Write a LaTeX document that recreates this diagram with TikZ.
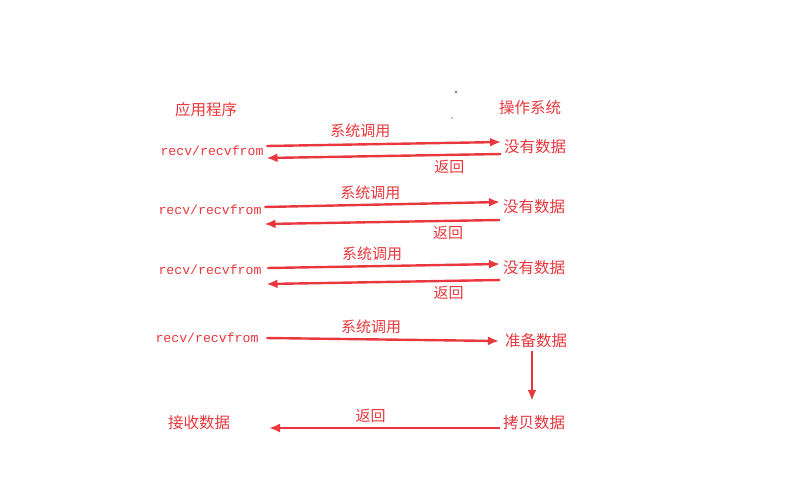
\documentclass[tikz,border=0pt]{standalone}
\usepackage{fontspec}
\usepackage{tikz}
\usetikzlibrary{arrows.meta,positioning,calc}
\newfontfamily\cjk{Noto Sans CJK SC}
\newfontfamily\mono{Liberation Mono}
\definecolor{rouge}{HTML}{E8383D}
\tikzset{
  zh/.style={inner sep=0pt, outer sep=3pt, text=rouge, font=\cjk\fontsize{15.5}{16}\selectfont},
  call/.style={inner sep=0pt, outer sep=3pt, text=rouge, font=\mono\fontsize{13.2}{14}\selectfont},
  lbl/.style={inner sep=0pt, text=rouge, font=\cjk\fontsize{15}{16}\selectfont},
  arr/.style={-{Latex[length=11pt,width=9pt]}, line width=2.4pt, draw=rouge},
}
\begin{document}
\begin{tikzpicture}[x=1pt, y=-1pt]
  \useasboundingbox (0,0) rectangle (790,499);
  \node[zh] (app) at (206,110) {应用程序};
  \node[zh] (os)  at (530,108) {操作系统};
  \fill (456,92) circle (0.8); \fill (452,118) circle (0.6);
  % trois appels sans donnees
  \node[call] (r1) at (212,151) {recv/recvfrom};
  \node[zh]   (n1) at (535,147) {没有数据};
  \node[call] (r2) at (210,210) {recv/recvfrom};
  \node[zh]   (n2) at (534,207) {没有数据};
  \node[call] (r3) at (210,270) {recv/recvfrom};
  \node[zh]   (n3) at (534,268) {没有数据};
  \draw[arr] ([yshift=5]r1.east) -- node[lbl, above=5pt, pos=0.4] {系统调用} ([yshift=5]n1.west);
  \draw[arr] ([yshift=-7]n1.west) -- node[lbl, below=4pt, pos=0.22] {返回} ([yshift=-7]r1.east);
  \draw[arr] ([yshift=3]r2.east) -- node[lbl, above=4pt, pos=0.45] {系统调用} ([yshift=5]n2.west);
  \draw[arr] ([yshift=-13]n2.west) -- node[lbl, below=4pt, pos=0.22] {返回} ([yshift=-14]r2.east);
  \draw[arr] ([yshift=2,xshift=3]r3.east) -- node[lbl, above=4pt, pos=0.45] {系统调用} ([yshift=4]n3.west);
  \draw[arr] ([yshift=-12]n3.west) -- node[lbl, below=4pt, pos=0.22] {返回} ([yshift=-14,xshift=2]r3.east);
  % appel avec donnees
  \node[call] (r4) at (207,338) {recv/recvfrom};
  \node[zh]   (p4) at (536,341) {准备数据};
  \node[zh]   (c4) at (534,423) {拷贝数据};
  \node[zh]   (rx) at (199,423) {接收数据};
  \draw[arr] ([xshift=5]r4.east) -- node[lbl, above=4pt, pos=0.45] {系统调用} ([xshift=-3]p4.west);
  \draw[arr, shorten >=12pt] ([xshift=-4]p4.south) -- ([xshift=-4]p4.south |- c4.north);
  \draw[arr] ([yshift=-5]c4.west) -- node[lbl, above=4pt, pos=0.56] {返回} ([yshift=-5,xshift=36]rx.east);
\end{tikzpicture}
\end{document}
